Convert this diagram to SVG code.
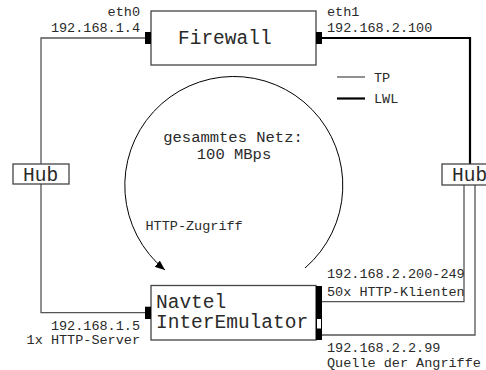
<svg xmlns="http://www.w3.org/2000/svg" width="486" height="370" viewBox="0 0 486 370">
<style>
text{font-family:"Liberation Mono","DejaVu Sans Mono",monospace;fill:#2a2a2a}
.big{font-size:19.5px}
.mid{font-size:15.5px}
.sm{font-size:13.5px}
.box{fill:#fff;stroke:#444;stroke-width:1.3}
.tp{fill:none;stroke:#555;stroke-width:1.3}
.lwl{fill:none;stroke:#000;stroke-width:2.2}
.port{fill:#000}
</style>
<defs>
<marker id="arr" markerUnits="userSpaceOnUse" markerWidth="11" markerHeight="8" refX="10" refY="4" orient="auto">
<path d="M0,0 L10,4 L0,8 z" fill="#000"/>
</marker>
</defs>
<g id="connectors">
<polyline class="tp" points="145,38 41,38 41,164"/>
<polyline class="tp" points="41,184 41,312.7 145,312.7"/>
<polyline class="lwl" points="322,38 470,38 470,164"/>
<polyline class="tp" points="464,185 464,301.7 322,301.7"/>
<polyline class="tp" points="475,185 475,335 322,335"/>
<path d="M305,268 A109,109 0 1 0 165,270" fill="none" stroke="#000" stroke-width="1" marker-end="url(#arr)"/>
</g>
<g id="firewall">
<rect class="box" x="151" y="11" width="165" height="54"/>
<rect class="port" x="145" y="32" width="6" height="12"/>
<rect class="port" x="316" y="32" width="6" height="12"/>
<text class="big" x="178" y="44">Firewall</text>
</g>
<g id="hub-left">
<rect class="box" x="13" y="164" width="56" height="20"/>
<text class="big" x="23" y="181">Hub</text>
</g>
<g id="hub-right">
<rect class="box" x="442" y="164" width="56" height="21"/>
<text class="big" x="452" y="181">Hub</text>
</g>
<g id="navtel">
<rect class="box" x="151" y="285.5" width="165" height="54.5"/>
<rect class="port" x="145" y="306.7" width="6" height="12.3"/>
<rect class="port" x="316" y="286" width="6" height="32"/>
<rect x="316.5" y="318.5" width="5" height="10.5" fill="#fff" stroke="#000" stroke-width="1"/>
<rect class="port" x="316" y="329" width="6" height="11"/>
<text class="big" x="156" y="307.7">Navtel</text>
<text class="big" x="156" y="327.7">InterEmulator</text>
</g>
<g id="legend">
<line class="tp" x1="337" y1="77" x2="365" y2="77"/>
<line class="lwl" x1="337" y1="98.5" x2="365" y2="98.5"/>
<text class="sm" x="374" y="82">TP</text>
<text class="sm" x="374" y="103">LWL</text>
</g>
<g id="labels">
<text class="sm" x="140" y="15.7" text-anchor="end">eth0</text>
<text class="sm" x="140" y="31.7" text-anchor="end">192.168.1.4</text>
<text class="sm" x="327" y="16">eth1</text>
<text class="sm" x="327" y="32">192.168.2.100</text>
<text class="mid" x="233" y="141.7" text-anchor="middle">gesammtes Netz:</text>
<text class="mid" x="234" y="159.3" text-anchor="middle">100 MBps</text>
<text class="sm" x="145.5" y="230">HTTP-Zugriff</text>
<text class="sm" x="140" y="330" text-anchor="end">192.168.1.5</text>
<text class="sm" x="140" y="344.3" text-anchor="end">1x HTTP-Server</text>
<text class="sm" x="327" y="278.3">192.168.2.200-249</text>
<text class="sm" x="327" y="295.7">50x HTTP-Klienten</text>
<text class="sm" x="327" y="351.7">192.168.2.2.99</text>
<text class="sm" x="327" y="366.7">Quelle der Angriffe</text>
</g>
</svg>
